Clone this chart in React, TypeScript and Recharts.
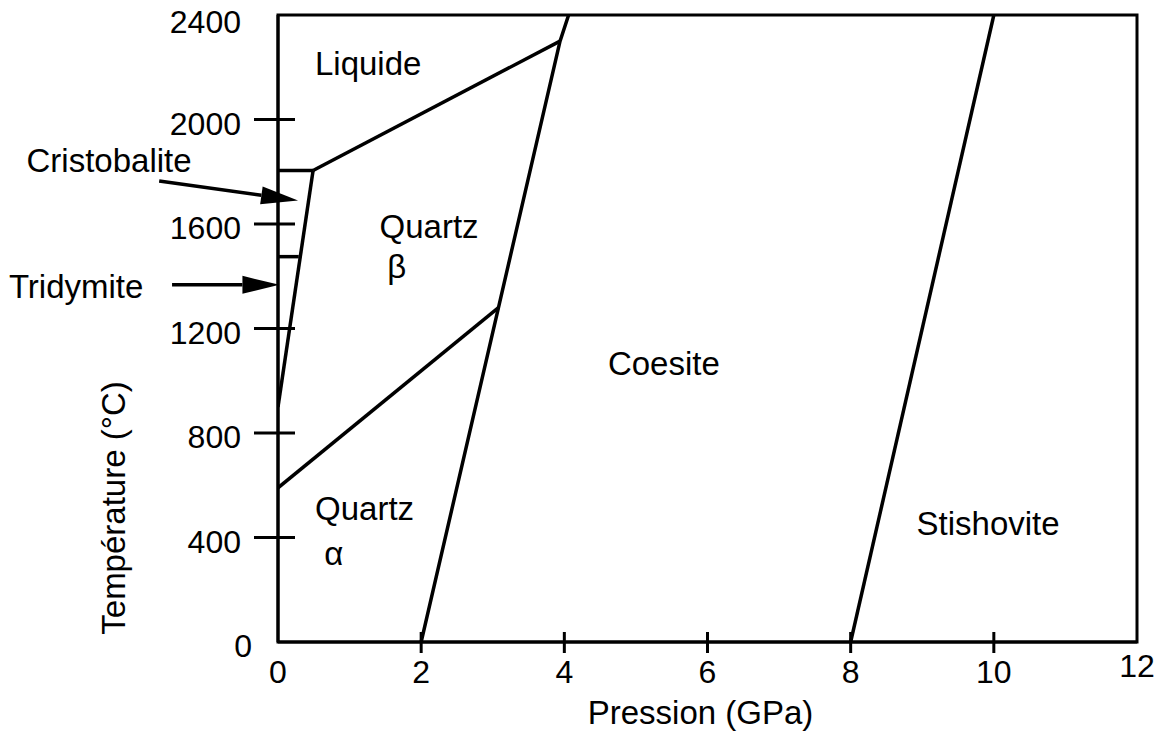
import React from "react";
import { LineChart, Line, XAxis, YAxis, ReferenceArea, ReferenceLine, ReferenceDot, Label } from "recharts";

const FONT = '"Liberation Sans", Arial, Helvetica, sans-serif';

// Axes: pression (GPa) / température (°C)
const xTicks = [0, 2, 4, 6, 8, 10, 12];
const yTicks = [0, 400, 800, 1200, 1600, 2000, 2400];

// Phase boundaries
const quartzCoesite = [
  { p: 2, t: 0 },
  { p: 3.08, t: 1280 },
  { p: 3.94, t: 2300 },
  { p: 4.06, t: 2400 },
];
const coesiteStishovite = [
  { p: 8, t: 0 },
  { p: 10, t: 2400 },
];
const quartzAlphaBeta = [
  { p: 0, t: 590 },
  { p: 3.08, t: 1280 },
];
const liquidus = [
  { p: 0.49, t: 1805 },
  { p: 3.94, t: 2300 },
];
const quartzBetaLimit = [
  { p: 0, t: 900 },
  { p: 0.49, t: 1805 },
];
const cristobaliteTop = [
  { p: 0, t: 1805 },
  { p: 0.49, t: 1805 },
];
const tridymiteTop = [
  { p: 0, t: 1475 },
  { p: 0.29, t: 1475 },
];

const boundaries = [
  quartzCoesite,
  coesiteStishovite,
  quartzAlphaBeta,
  liquidus,
  quartzBetaLimit,
  cristobaliteTop,
  tridymiteTop,
];

// Region names (p, t = text baseline centre)
const regionLabels = [
  { text: "Liquide", p: 1.26, t: 2170 },
  { text: "Quartz", p: 2.11, t: 1546 },
  { text: "β", p: 1.66, t: 1393 },
  { text: "Coesite", p: 5.39, t: 1022 },
  { text: "Quartz", p: 1.21, t: 467 },
  { text: "α", p: 0.78, t: 295 },
  { text: "Stishovite", p: 9.92, t: 410 },
  { text: "Cristobalite", p: -2.36, t: 1799 },
  { text: "Tridymite", p: -2.82, t: 1317 },
];

// Pointer arrows (tail -> head)
const arrows = [
  [{ p: -1.66, t: 1765 }, { p: 0.28, t: 1690 }],
  [{ p: -1.48, t: 1367 }, { p: 0.02, t: 1367 }],
];

const ArrowShape = (props: any) => {
  const { x1, y1, x2, y2 } = props;
  const dx = x2 - x1;
  const dy = y2 - y1;
  const len = Math.hypot(dx, dy) || 1;
  const ux = dx / len;
  const uy = dy / len;
  const hl = 37;
  const hw = 9;
  const bx = x2 - ux * hl;
  const by = y2 - uy * hl;
  return (
    <g>
      <line x1={x1} y1={y1} x2={bx} y2={by} stroke="#000" strokeWidth={3.5} />
      <polygon
        points={`${x2},${y2} ${bx - uy * hw},${by + ux * hw} ${bx + uy * hw},${by - ux * hw}`}
        fill="#000"
      />
    </g>
  );
};

const YTick = (props: any) => {
  const { x, y, payload } = props;
  const v = payload.value;
  const edge = v === 0 || v === 2400;
  return (
    <g>
      {!edge && <line x1={x - 24} y1={y} x2={x + 17} y2={y} stroke="#000" strokeWidth={3} />}
      <text
        x={v === 0 ? x - 26 : x - 37}
        y={v === 2400 ? y + 18 : y + 15}
        textAnchor="end"
        fontSize={32}
        fontFamily={FONT}
        fill="#000"
      >
        {v}
      </text>
    </g>
  );
};

const XTick = (props: any) => {
  const { x, y, payload } = props;
  const v = payload.value;
  const edge = v === 0 || v === 12;
  return (
    <g>
      {!edge && <line x1={x} y1={y - 10} x2={x} y2={y + 11} stroke="#000" strokeWidth={3} />}
      <text
        x={x}
        y={v === 12 ? y + 35 : y + 41}
        textAnchor="middle"
        fontSize={32}
        fontFamily={FONT}
        fill="#000"
      >
        {v}
      </text>
    </g>
  );
};

const YTitle = (props: any) => {
  const vb = props.viewBox || { x: 0, y: 15, width: 278, height: 627 };
  const cx = vb.x + 125;
  const cy = vb.y + 493;
  return (
    <text
      transform={`translate(${cx},${cy}) rotate(-90)`}
      textAnchor="middle"
      fontSize={33}
      fontFamily={FONT}
      fill="#000"
    >
      Température (°C)
    </text>
  );
};

const XTitle = (props: any) => {
  const vb = props.viewBox || { x: 278, y: 642, width: 859, height: 99 };
  return (
    <text
      x={vb.x + vb.width / 2 - 7}
      y={vb.y + 82}
      textAnchor="middle"
      fontSize={33}
      fontFamily={FONT}
      fill="#000"
    >
      Pression (GPa)
    </text>
  );
};

const App = () => {
  return (
    <div style={{ position: "absolute", left: 0, top: 0, width: 1159, height: 741, background: "#fff" }}>
      <LineChart width={1159} height={741} margin={{ top: 15, right: 22, bottom: 0, left: 0 }}>
        <XAxis
          dataKey="p"
          type="number"
          domain={[0, 12]}
          ticks={xTicks}
          tick={XTick}
          tickSize={0}
          tickMargin={0}
          tickLine={false}
          height={99}
          axisLine={{ stroke: "#000", strokeWidth: 3 }}
          allowDataOverflow
        >
          <Label content={XTitle} />
        </XAxis>
        <YAxis
          dataKey="t"
          type="number"
          domain={[0, 2400]}
          ticks={yTicks}
          tick={YTick}
          tickSize={0}
          tickMargin={0}
          tickLine={false}
          width={278}
          axisLine={{ stroke: "#000", strokeWidth: 3 }}
          allowDataOverflow
        >
          <Label content={YTitle} />
        </YAxis>
        <ReferenceArea x1={0} x2={12} y1={0} y2={2400} fill="none" stroke="#000" strokeWidth={3} fillOpacity={0} />
        {boundaries.map((d, i) => (
          <Line
            key={i}
            data={d}
            dataKey="t"
            type="linear"
            stroke="#000"
            strokeWidth={3.5}
            dot={false}
            activeDot={false}
            isAnimationActive={false}
          />
        ))}
        {arrows.map((a, i) => (
          <ReferenceLine
            key={`arrow-${i}`}
            segment={[
              { x: a[0].p, y: a[0].t },
              { x: a[1].p, y: a[1].t },
            ]}
            ifOverflow="visible"
            shape={ArrowShape}
          />
        ))}
        {regionLabels.map((l, i) => (
          <ReferenceDot
            key={`lbl-${i}`}
            x={l.p}
            y={l.t}
            r={1}
            ifOverflow="visible"
            shape={(props: any) => (
              <text x={props.cx} y={props.cy} textAnchor="middle" fontSize={33} fontFamily={FONT} fill="#000">
                {l.text}
              </text>
            )}
          />
        ))}
      </LineChart>
    </div>
  );
};

export default App;
